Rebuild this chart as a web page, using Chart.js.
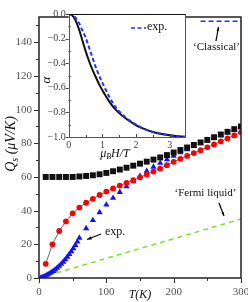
<!DOCTYPE html>
<html><head><meta charset="utf-8">
<script src="https://cdn.jsdelivr.net/npm/chart.js@4/dist/chart.umd.min.js"></script>
<style>
html,body{margin:0;padding:0;background:#fff;}
#wrap{position:relative;width:248px;height:302px;}
canvas{position:absolute;left:0;top:0;}
</style></head><body>
<div id="wrap"><canvas id="main" width="248" height="302"></canvas><canvas id="inset" width="248" height="302"></canvas></div>
<script>
// ---- main panel data ----
const tSquares = [10,20,30,40,50,60,70,80,90,100,110,120,130,140,150,160,170,180,190,200,210,220,230,240,250,260,270,280,290,300];
const qSquares = [60,60,60,60,60,60.3,60.6,61,61.6,62.4,63.4,64.4,65.5,66.7,67.9,69.1,70.3,71.6,73.0,74.5,76.0,77.5,79.0,80.5,82.0,83.6,85.2,86.8,88.4,90.0];
const tCircles = [10,20,30,40,50,60,70,80,90,100,110,120,130,140,150,160,170,180,190,200,210,220,230,240,250,260,270,280,290,300];
const qCircles = [8.4,20,27.9,33.6,38.4,41.8,44.7,47,49.3,51.3,53.2,54.9,56.5,58.1,59.8,61.5,63.2,65,67,69,70.8,72.5,74.2,75.9,77.6,79.3,81.1,82.9,84.7,86.5];
const tTriangles = [3,6,9,12,15,18,21,24,27,30,33,36,39,42,45,48,51,54,57,60,70,80,90,100,110,120,130,140,150,160,170,180,190,200,210,220,230,240,250,260,270,280,290,300];
const qTriangles = [0.3,0.7,1.2,1.8,2.5,3.3,4.1,5.0,6.0,7.1,8.3,9.6,11.0,12.5,14.1,15.8,17.6,19.5,21.5,23.8,29.5,34.3,39,43.5,47.5,51,54.3,57.3,60.5,63.5,66,68.3,70.4,72.5,74.5,76.4,78.2,80,81.7,83.3,85,86.6,88.1,89.5];
const tFermi = [0,300];
const qFermi = [0,35];
const tClassical = [240,300];
const qClassical = [152.5,152.5];
const xTickLabels = [0,100,200,300];
const yTickLabels = [0,20,40,60,80,100,120,140];
// ---- inset data ----
const hField = [0,0.1,0.2,0.3,0.4,0.5,0.6,0.7,0.8,0.9,1.0,1.2,1.4,1.6,1.8,2.0,2.2,2.5,2.8,3.1,3.45];
const alphaTheory = [0,-0.01,-0.05,-0.12,-0.21,-0.30,-0.38,-0.45,-0.51,-0.57,-0.62,-0.71,-0.78,-0.83,-0.87,-0.905,-0.93,-0.96,-0.978,-0.99,-0.997];
const alphaExp = [0,-0.005,-0.03,-0.07,-0.13,-0.19,-0.27,-0.35,-0.43,-0.50,-0.56,-0.67,-0.76,-0.82,-0.865,-0.90,-0.93,-0.96,-0.978,-0.99,-0.997];
const insetXTicks = [0,1,2,3];
const insetYTicks = [0,-0.2,-0.4,-0.6,-0.8,-1.0];
const insetYTickText = ['0.0','\u22120.2','\u22120.4','\u22120.6','\u22120.8','\u22121.0'];

const pts = (xs, ys) => xs.map((x,i)=>({x:x, y:ys[i]}));
const SERIF = '"Liberation Serif", "DejaVu Serif", serif';

function line(ctx,x1,y1,x2,y2){ctx.beginPath();ctx.moveTo(x1,y1);ctx.lineTo(x2,y2);ctx.stroke();}
function arrow(ctx,x1,y1,x2,y2,head){
  ctx.beginPath();ctx.moveTo(x1,y1);ctx.lineTo(x2,y2);ctx.stroke();
  const a=Math.atan2(y2-y1,x2-x1);
  ctx.beginPath();ctx.moveTo(x2,y2);
  ctx.lineTo(x2-head*Math.cos(a-0.35),y2-head*Math.sin(a-0.35));
  ctx.lineTo(x2-head*Math.cos(a+0.35),y2-head*Math.sin(a+0.35));
  ctx.closePath();ctx.fill();
}

const mainDecor = {
  id:'mainDecor',
  afterDatasetsDraw(chart){
    const ctx=chart.ctx, ca=chart.chartArea, xs=chart.scales.x, ys=chart.scales.y;
    ctx.save();
    ctx.strokeStyle='#222'; ctx.lineWidth=1.5;
    ctx.strokeRect(ca.left, ca.top, ca.right-ca.left, ca.bottom-ca.top);
    ctx.lineWidth=1; ctx.strokeStyle='#333';
    for(let v=0; v<=150; v+=10){
      const p=Math.round(ys.getPixelForValue(v))+0.5;
      const len = (v%20===0)?5:3;
      line(ctx,ca.left-len,p,ca.left,p);
    }
    for(let v=0; v<=300; v+=50){
      const p=Math.round(xs.getPixelForValue(v))+0.5;
      const len = (v%100===0)?5:3;
      line(ctx,p,ca.bottom,p,ca.bottom+len);
    }
    ctx.fillStyle='#555'; ctx.font='11px '+SERIF;
    ctx.textAlign='right'; ctx.textBaseline='middle';
    yTickLabels.forEach(v=>ctx.fillText(String(v), ca.left-7, ys.getPixelForValue(v)));
    ctx.textAlign='center';
    xTickLabels.forEach(v=>ctx.fillText(String(v), xs.getPixelForValue(v), 292));
    // axis titles
    ctx.fillStyle='#111';
    ctx.font='italic 12px '+SERIF; ctx.textBaseline='middle'; ctx.textAlign='center';
    ctx.fillText('T(K)', 140, 295);
    ctx.save();
    ctx.translate(11,144); ctx.rotate(-Math.PI/2);
    const f1='italic 14px '+SERIF, f2='italic 10px '+SERIF;
    ctx.font=f1; const wQ=ctx.measureText('Q').width; const wR=ctx.measureText(' (\u03bcV/K)').width;
    ctx.font=f2; const wS=ctx.measureText('s').width;
    let x0=-(wQ+wS+wR)/2;
    ctx.textAlign='left';
    ctx.font=f1; ctx.fillText('Q',x0,0);
    ctx.font=f2; ctx.fillText('s',x0+wQ,4);
    ctx.font=f1; ctx.fillText(' (\u03bcV/K)',x0+wQ+wS,0);
    ctx.restore();
    // annotations
    ctx.fillStyle='#111'; ctx.font='11px '+SERIF; ctx.textAlign='center'; ctx.textBaseline='middle';
    ctx.fillText('\u2018Classical\u2019', 216.5, 47);
    ctx.fillText('\u2018Fermi liquid\u2019', 205.5, 193.5);
    ctx.font='12px '+SERIF; ctx.textAlign='left';
    ctx.fillText('exp.', 105, 232);
    ctx.strokeStyle='#111'; ctx.lineWidth=1.3;
    arrow(ctx,216,41,218.5,27,4);
    arrow(ctx,219,203,224,216,4);
    arrow(ctx,101,234,87,239.5,5);
    ctx.restore();
  }
};

new Chart(document.getElementById('main'), {
  type:'scatter',
  data:{datasets:[
    {data:pts(tSquares,qSquares), pointStyle:'rect', pointRadius:4.2, backgroundColor:'#111', borderColor:'#111', borderWidth:0, order:0},
    {data:pts(tCircles,qCircles), pointStyle:'circle', pointRadius:2.9, backgroundColor:'#ff0000', borderColor:'#ff0000', borderWidth:0, order:1},
    {data:pts(tCircles,qCircles), showLine:true, pointRadius:0, borderColor:'#444', borderWidth:0.8, order:2},
    {data:pts(tTriangles,qTriangles), pointStyle:'triangle', pointRadius:3.6, backgroundColor:'#1010ff', borderColor:'#1010ff', borderWidth:0, order:3},
    {data:pts(tFermi,qFermi), showLine:true, pointRadius:0, borderColor:'#80e030', borderWidth:1.5, borderDash:[5,4], order:4},
    {data:pts(tClassical,qClassical), showLine:true, pointRadius:0, borderColor:'#2030ff', borderWidth:1.5, borderDash:[5,3], order:4}
  ]},
  options:{
    responsive:false, animation:false, devicePixelRatio:1,
    layout:{padding:{left:39,right:7,top:17,bottom:24}},
    plugins:{legend:{display:false},tooltip:{enabled:false}},
    scales:{
      x:{type:'linear',min:0,max:300,display:false},
      y:{type:'linear',min:0,max:155,display:false}
    }
  },
  plugins:[mainDecor]
});

const insetDecor = {
  id:'insetDecor',
  beforeDatasetsDraw(chart){
    const ctx=chart.ctx, ca=chart.chartArea;
    ctx.save(); ctx.fillStyle='#fff';
    ctx.fillRect(ca.left,ca.top,ca.right-ca.left,ca.bottom-ca.top);
    ctx.restore();
  },
  afterDatasetsDraw(chart){
    const ctx=chart.ctx, ca=chart.chartArea, xs=chart.scales.x, ys=chart.scales.y;
    ctx.save();
    ctx.strokeStyle='#555'; ctx.lineWidth=1;
    ctx.strokeRect(Math.round(ca.left)+0.5, Math.round(ca.top)+0.5, Math.round(ca.right-ca.left), Math.round(ca.bottom-ca.top));
    ctx.strokeStyle='#111';
    line(ctx,ca.left,Math.round(ca.top)+0.5,ca.right,Math.round(ca.top)+0.5);
    ctx.strokeStyle='#444';
    for(let v=0; v>=-1.0001; v-=0.1){
      const p=Math.round(ys.getPixelForValue(v))+0.5;
      const major = Math.abs(Math.round(v*10))%2===0;
      if(major) line(ctx,ca.left-3,p,ca.left,p); else line(ctx,ca.left,p,ca.left+2,p);
    }
    for(let v=0; v<=3.45; v+=0.5){
      const p=Math.round(xs.getPixelForValue(v))+0.5;
      const major = Math.abs(v-Math.round(v))<0.01;
      line(ctx,p,ca.bottom,p,ca.bottom-(major?3:2));
    }
    ctx.fillStyle='#444'; ctx.font='10px '+SERIF;
    ctx.textAlign='right'; ctx.textBaseline='middle';
    insetYTicks.forEach((v,i)=>ctx.fillText(insetYTickText[i], ca.left-3, ys.getPixelForValue(v)));
    ctx.textAlign='center';
    insetXTicks.forEach(v=>ctx.fillText(String(v), xs.getPixelForValue(v), 145));
    // axis titles
    ctx.fillStyle='#111';
    ctx.save(); ctx.translate(47,80); ctx.rotate(-Math.PI/2);
    ctx.font='italic 13px '+SERIF; ctx.textAlign='center'; ctx.fillText('\u03b1',0,0);
    ctx.restore();
    const f1='italic 12px '+SERIF, f2='italic 8px '+SERIF;
    ctx.font=f1; const wMu=ctx.measureText('\u03bc').width; const wR=ctx.measureText('H/T').width;
    ctx.font=f2; const wB=ctx.measureText('B').width;
    let x0=115-(wMu+wB+wR)/2; ctx.textAlign='left';
    ctx.font=f1; ctx.fillText('\u03bc',x0,154);
    ctx.font=f2; ctx.fillText('B',x0+wMu,157);
    ctx.font=f1; ctx.fillText('H/T',x0+wMu+wB,154);
    // legend
    ctx.strokeStyle='#2030ff'; ctx.lineWidth=1.5; ctx.setLineDash([4,2.5]);
    line(ctx,131,28,146,28); ctx.setLineDash([]);
    ctx.fillStyle='#111'; ctx.font='12px '+SERIF; ctx.textAlign='left';
    ctx.fillText('exp.',147,27);
    ctx.restore();
  }
};

new Chart(document.getElementById('inset'), {
  type:'scatter',
  data:{datasets:[
    {data:pts(hField,alphaExp), showLine:true, pointRadius:0, borderColor:'#2030ff', borderWidth:2, borderDash:[4,2.5], cubicInterpolationMode:'monotone', order:0},
    {data:pts(hField,alphaTheory), showLine:true, pointRadius:0, borderColor:'#111', borderWidth:2, cubicInterpolationMode:'monotone', order:1}
  ]},
  options:{
    responsive:false, animation:false, devicePixelRatio:1,
    layout:{padding:{left:68.7,right:63,top:14,bottom:165}},
    plugins:{legend:{display:false},tooltip:{enabled:false}},
    scales:{
      x:{type:'linear',min:0,max:3.45,display:false},
      y:{type:'linear',min:-1,max:0,display:false}
    }
  },
  plugins:[insetDecor]
});
</script>
</body></html>
